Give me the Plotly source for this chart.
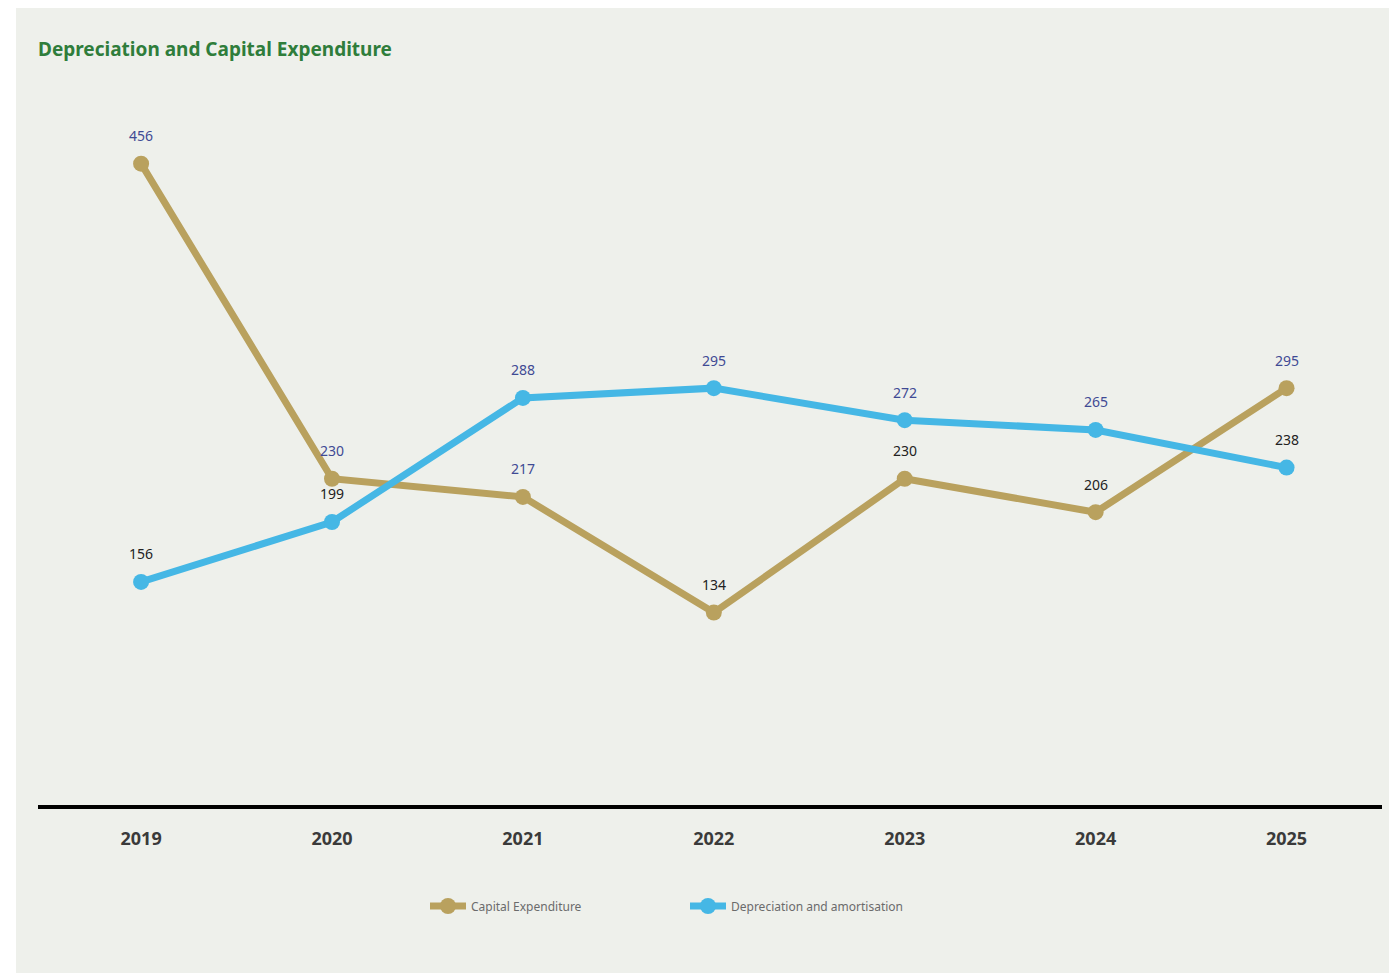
import plotly.graph_objects as go

# Data (millions)
years = ["2019", "2020", "2021", "2022", "2023", "2024", "2025"]
capex = [456, 230, 217, 134, 230, 206, 295]
depreciation = [156, 199, 288, 295, 272, 265, 238]

# Per-point label colours
capex_label_colors = ["#3f4a94", "#3f4a94", "#3f4a94", "#222222", "#222222", "#222222", "#3f4a94"]
dep_label_colors = ["#222222", "#222222", "#3f4a94", "#3f4a94", "#3f4a94", "#3f4a94", "#222222"]

GOLD = "#b9a15e"
BLUE = "#45b7e5"
FONT = "Noto Sans"

W, H = 1389, 974
ML, MR, MT, MB = 38, 7, 80, 169
PW, PH = W - ML - MR, H - MT - MB

fig = go.Figure()

fig.add_trace(go.Scatter(
    x=list(range(len(years))), y=capex, name="Capital Expenditure",
    mode="lines+markers", line=dict(color=GOLD, width=7),
    marker=dict(color=GOLD, size=16),
))
fig.add_trace(go.Scatter(
    x=list(range(len(years))), y=depreciation, name="Depreciation and amortisation",
    mode="lines+markers", line=dict(color=BLUE, width=7),
    marker=dict(color=BLUE, size=16),
))

annotations = []
for series, colors in ((capex, capex_label_colors), (depreciation, dep_label_colors)):
    for i, (v, c) in enumerate(zip(series, colors)):
        annotations.append(dict(
            x=i, y=v, xref="x", yref="y", text=str(v), showarrow=False,
            yshift=28, font=dict(family=FONT, size=14, color=c),
        ))

# Light panel behind the chart
shapes = [dict(
    type="rect", xref="paper", yref="paper", layer="below",
    x0=(16 - ML) / PW, x1=(W - ML) / PW,
    y0=(PH + MT - 973) / PH, y1=(PH + MT - 8) / PH,
    fillcolor="#eef0eb", line=dict(width=0),
)]

fig.update_layout(
    width=W, height=H,
    margin=dict(l=ML, r=MR, t=MT, b=MB),
    paper_bgcolor="white", plot_bgcolor="rgba(0,0,0,0)",
    title=dict(
        text="<b>Depreciation and Capital Expenditure</b>",
        x=38 / W, xref="container", xanchor="left",
        y=1 - 49 / H, yref="container", yanchor="middle",
        font=dict(family=FONT, size=19, color="#2f7d3b"),
    ),
    xaxis=dict(
        range=[-0.54, 6.5], showgrid=False, zeroline=False,
        tickmode="array", tickvals=list(range(len(years))),
        ticktext=[f"<b>{y}</b>" for y in years],
        tickfont=dict(family=FONT, size=18, color="#3a3a3a"),
        showline=True, linecolor="black", linewidth=4,
        ticks="", ticklabelstandoff=14,
    ),
    yaxis=dict(range=[-4, 516], visible=False, showgrid=False, zeroline=False),
    showlegend=True,
    legend=dict(
        orientation="h", x=(425 - ML) / PW, xanchor="left",
        y=(MT + PH - 906) / PH, yanchor="middle",
        font=dict(family=FONT, size=12, color="#6b6b6b"),
        bgcolor="rgba(0,0,0,0)", entrywidth=209, entrywidthmode="pixels",
        itemwidth=36,
    ),
    annotations=annotations,
    shapes=shapes,
)

fig.write_html("out.html")
